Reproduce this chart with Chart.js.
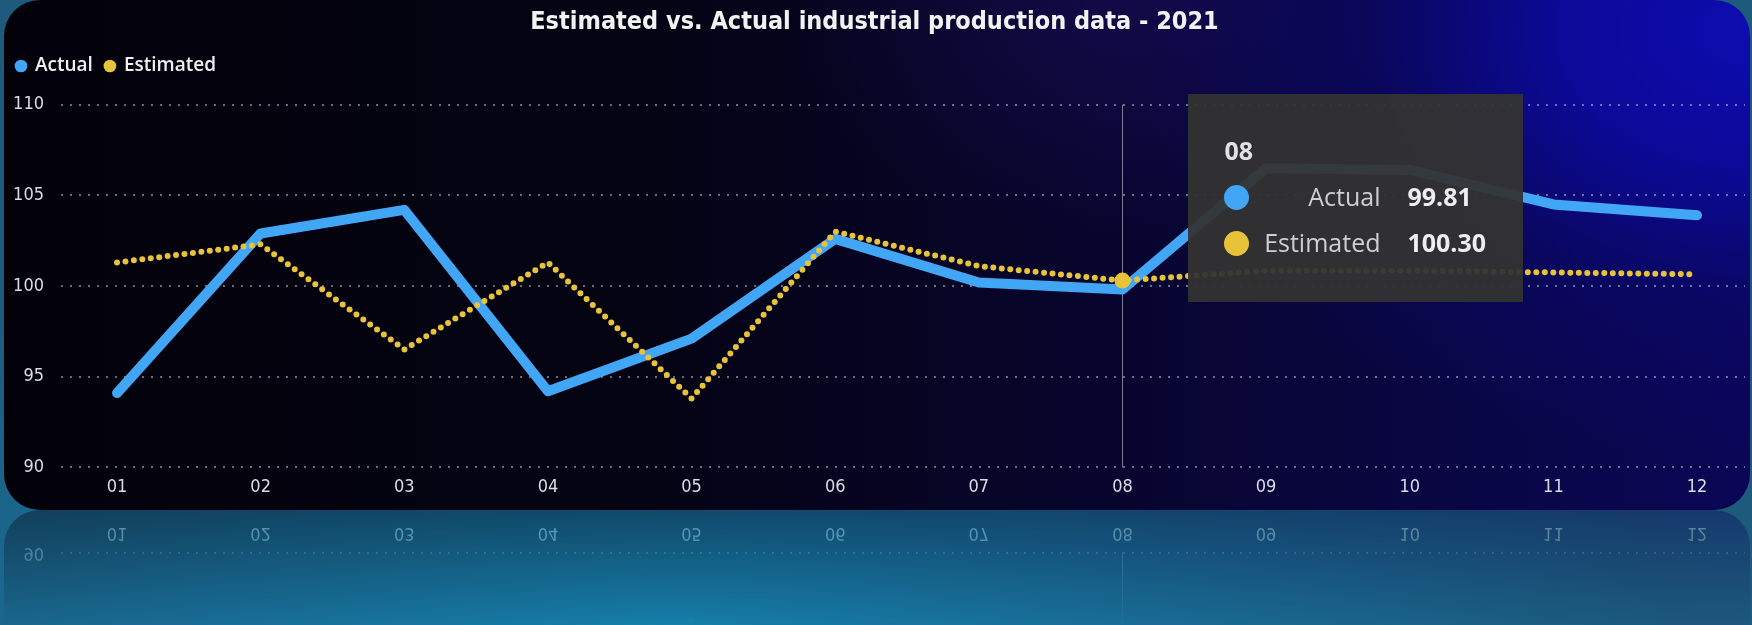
<!DOCTYPE html>
<html>
<head>
<meta charset="utf-8">
<title>Estimated vs. Actual industrial production data - 2021</title>
<script src="https://cdn.jsdelivr.net/npm/chart.js@4.4.1/dist/chart.umd.min.js"></script>
<style>
  html, body { margin: 0; padding: 0; width: 1752px; height: 625px; overflow: hidden; }
  body {
    position: relative;
    background: radial-gradient(ellipse 1000px 420px at 38% 100%, #1680ab 0%, #196f98 45%, #1d5a7c 100%);
  }
  #card {
    position: absolute; left: 4px; top: 0; width: 1746px; height: 510px;
    border-radius: 36px; overflow: hidden;
    background:
      radial-gradient(ellipse 620px 430px at 100% 6%, rgba(14,12,175,1) 0%, rgba(12,10,160,0.9) 30%, rgba(10,8,120,0.45) 62%, rgba(8,6,80,0) 100%),
      radial-gradient(ellipse 320px 240px at 63% 0%, rgba(40,18,120,0.35) 0%, rgba(20,10,80,0) 100%),
      linear-gradient(90deg, #03020b 0%, #040312 35%, #07052a 60%, #09063e 78%, #0a0656 100%);
    -webkit-box-reflect: below 0px linear-gradient(to bottom, transparent 0%, transparent 77%, rgba(255,255,255,0.38) 100%);
  }
  #chart { position: absolute; left: 0; top: 0; }
  #tip {
    position: absolute; display: none; width: 335px; height: 208px;
    background: rgba(51,51,51,0.95); font-family: 'Open Sans', sans-serif; pointer-events: none;
  }
  #tip .tt-title { position: absolute; left: 36px; top: 39px; font-size: 25px; font-weight: 700; color: #e2e2e2; line-height: 34px; }
  #tip .tt-row { position: absolute; left: 0; width: 335px; height: 46px; }
  #tip .tt-dot { position: absolute; left: 36px; top: 11px; width: 25px; height: 25px; border-radius: 50%; }
  #tip .tt-label { position: absolute; left: 62px; width: 130px; top: 4px; text-align: right; font-size: 25px; color: #cfcfcf; line-height: 36px; }
  #tip .tt-val { position: absolute; left: 219px; top: 4px; font-size: 25px; font-weight: 700; color: #eeeeee; line-height: 36px; }
</style>
</head>
<body>
<div id="card">
  <canvas id="chart"></canvas>
  <div id="tip"></div>
</div>
<script>
// data
const MONTHS    = ['01','02','03','04','05','06','07','08','09','10','11','12'];
const ACTUAL    = [94.1, 102.9, 104.2, 94.2, 97.1, 102.6, 100.2, 99.81, 106.5, 106.4, 104.5, 103.9];
const ESTIMATED = [101.3, 102.3, 96.5, 101.3, 93.8, 103.0, 101.1, 100.30, 100.85, 100.85, 100.75, 100.65];
const Y_TICKS   = [90, 95, 100, 105, 110];
const HOVER_INDEX = 7;

const BLUE   = '#40a6f5';
const YELLOW = '#e8c33a';
const AXIS_FONT = "'Liberation Sans Narrow', 'DejaVu Sans Condensed', Roboto, sans-serif";

function toPoints(values) {
    return values.map(function(v, i) { return { x: i + 1, y: v }; });
}

// thin vertical line at the hovered month
const hoverLine = {
    id: 'hoverLine',
    beforeDatasetsDraw: function(chart) {
        var act = chart.getActiveElements();
        if (!act.length) return;
        var x = act[0].element.x, ca = chart.chartArea, ctx = chart.ctx;
        ctx.save();
        ctx.strokeStyle = 'rgba(220,220,230,0.55)';
        ctx.lineWidth = 1;
        ctx.beginPath();
        ctx.moveTo(Math.round(x) + 0.5, ca.top);
        ctx.lineTo(Math.round(x) + 0.5, ca.bottom);
        ctx.stroke();
        ctx.restore();
    }
};

function renderTip(context) {
    var tip = document.getElementById('tip');
    var t = context.tooltip;
    if (t.opacity === 0 || !t.dataPoints || !t.dataPoints.length) { tip.style.display = 'none'; return; }
    var pts = t.dataPoints.slice().sort(function(a, b) { return a.datasetIndex - b.datasetIndex; });
    var html = '<div class="tt-title">' + MONTHS[pts[0].dataIndex] + '</div>';
    pts.forEach(function(p, i) {
        html += '<div class="tt-row" style="top:' + (80 + i * 46) + 'px">' +
            '<span class="tt-dot" style="background:' + p.dataset.borderColor + '"></span>' +
            '<span class="tt-label">' + p.dataset.label + '</span>' +
            '<span class="tt-val">' + p.parsed.y.toFixed(2) + '</span></div>';
    });
    tip.innerHTML = html;
    tip.style.display = 'block';
    tip.style.left = (t.caretX + 66) + 'px';
    tip.style.top = (context.chart.chartArea.top - 11) + 'px';
}

var canvas = document.getElementById('chart');
canvas.style.width = '1746px';
canvas.style.height = '510px';

var chart = new Chart(canvas.getContext('2d'), {
    type: 'line',
    data: {
        datasets: [
            { label: 'Actual', data: toPoints(ACTUAL), borderColor: BLUE, backgroundColor: BLUE,
              borderWidth: 10, borderJoinStyle: 'round', borderCapStyle: 'round', tension: 0,
              pointRadius: 0, pointHoverRadius: 0, pointBorderWidth: 0, pointBackgroundColor: BLUE, order: 1 },
            { label: 'Estimated', data: toPoints(ESTIMATED), borderColor: YELLOW, backgroundColor: YELLOW,
              borderWidth: 6, borderDash: [0, 8.5], borderCapStyle: 'round', borderJoinStyle: 'round', tension: 0,
              pointRadius: 0, pointHoverRadius: 8, pointBorderWidth: 0, pointHoverBorderWidth: 0,
              pointBackgroundColor: YELLOW, pointHoverBackgroundColor: YELLOW, order: 0 }
        ]
    },
    options: {
        responsive: false,
        animation: false,
        events: [],
        layout: { padding: { left: 0, right: 5, top: 0, bottom: 3 } },
        interaction: { mode: 'index', intersect: false },
        plugins: {
            title: {
                display: true, text: 'Estimated vs. Actual industrial production data - 2021',
                color: '#f2f2f2', font: { family: AXIS_FONT, size: 25, weight: 'bold' },
                padding: { top: 7, bottom: 7 }
            },
            // empty spacer between legend and plot
            subtitle: { display: true, text: '', weight: 500, padding: 0, font: { size: 16 } },
            legend: {
                position: 'top', align: 'start',
                labels: {
                    usePointStyle: true, pointStyle: 'circle', boxWidth: 9, boxHeight: 9, padding: 12.5,
                    color: '#f0f0f0', font: { family: "'Open Sans', sans-serif", size: 19, weight: '600' },
                    sort: function(a, b) { return a.datasetIndex - b.datasetIndex; }
                }
            },
            tooltip: { enabled: false, external: renderTip }
        },
        scales: {
            x: {
                type: 'linear', bounds: 'data', min: 0.61, max: 12.334,
                afterBuildTicks: function(scale) { scale.ticks = MONTHS.map(function(m, i) { return { value: i + 1 }; }); },
                grid: { display: false, drawTicks: false },
                border: { display: false },
                ticks: { autoSkip: false, maxRotation: 0, padding: 9, color: '#dcdce6',
                         font: { family: AXIS_FONT, size: 18 },
                         callback: function(v) { return MONTHS[v - 1]; } }
            },
            y: {
                min: 90, max: 110,
                afterBuildTicks: function(scale) { scale.ticks = Y_TICKS.map(function(v) { return { value: v }; }); },
                afterFit: function(scale) { scale.width = 57; },
                grid: { color: 'rgba(210,210,230,0.5)', lineWidth: 2, drawTicks: false },
                border: { display: false, dash: [2, 7] },
                ticks: { padding: 17, color: '#dcdce6', font: { family: AXIS_FONT, size: 18 } }
            }
        }
    },
    plugins: [hoverLine]
});

var active = [{ datasetIndex: 0, index: HOVER_INDEX }, { datasetIndex: 1, index: HOVER_INDEX }];
chart.setActiveElements(active);
chart.tooltip.setActiveElements(active, { x: 0, y: 0 });
chart.update();
</script>
</body>
</html>
